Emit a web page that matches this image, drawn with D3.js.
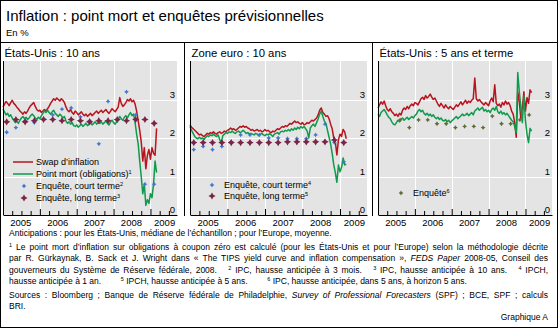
<!DOCTYPE html>
<html>
<head>
<meta charset="utf-8">
<script src="https://cdn.jsdelivr.net/npm/d3@7"></script>
<style>
body { margin: 0; background: #fff; }
svg { display: block; font-family: "Liberation Sans", Arial, sans-serif; }
</style>
</head>
<body>
<script>
////////////////   Data   //////////////////

// daily-ish series, one value every half month from 2005.0
var seriesStart = 2005, seriesStep = 1 / 24;

var usSwap = [2.80, 2.88, 2.95, 2.90, 2.84, 2.92, 2.98, 2.90, 2.86, 2.80, 2.76, 2.70,
  2.66, 2.62, 2.68, 2.64, 2.70, 2.78, 2.84, 2.88, 2.92,
  2.82, 2.74, 2.70, 2.72, 2.66, 2.70, 2.74, 2.70, 2.76, 2.82,
  2.90, 2.96, 3.02, 2.98, 3.04, 3.00, 2.96, 3.02, 2.98, 2.92,
  2.80, 2.72, 2.68, 2.74, 2.66, 2.62, 2.70, 2.66, 2.60, 2.64, 2.68, 2.62,
  2.58, 2.62, 2.56, 2.60, 2.64, 2.58, 2.62, 2.66, 2.70, 2.64, 2.68,
  2.72, 2.66, 2.70, 2.74, 2.68, 2.64, 2.70, 2.76, 2.72, 2.68, 2.74, 2.80,
  3.05, 2.90, 2.82, 2.86, 2.92, 3.00, 2.96, 3.02, 2.94, 2.98, 2.88, 2.70,
  2.45, 2.20, 1.90, 1.40, 1.75, 1.20, 1.55, 1.70, 1.45, 1.75, 1.60, 1.55, 2.25];
var usBreakeven = [2.75, 2.68, 2.60, 2.64, 2.56, 2.60, 2.52, 2.46, 2.40, 2.44, 2.38, 2.46,
  2.52, 2.56, 2.50, 2.54, 2.48, 2.52, 2.58, 2.62, 2.58,
  2.52, 2.48, 2.54, 2.50, 2.58, 2.64, 2.70, 2.66, 2.72, 2.66,
  2.62, 2.68, 2.72, 2.64, 2.60, 2.56, 2.62, 2.58, 2.52, 2.56,
  2.44, 2.38, 2.42, 2.36, 2.40, 2.32, 2.30, 2.34, 2.28, 2.32, 2.36, 2.30,
  2.34, 2.38, 2.32, 2.36, 2.40, 2.34, 2.38, 2.42, 2.36, 2.40, 2.38,
  2.42, 2.36, 2.40, 2.44, 2.38, 2.34, 2.42, 2.46, 2.40, 2.36, 2.42, 2.48,
  2.56, 2.50, 2.46, 2.54, 2.58, 2.52, 2.60, 2.66, 2.58, 2.62, 2.40, 2.10,
  1.85, 1.40, 1.00, 0.55, 0.80, 0.25, 0.40, 0.30, 0.55, 0.45, 0.80, 1.40, 1.10];

var euSwap = [2.34, 2.28, 2.24, 2.20, 2.16, 2.12, 2.08, 2.10, 2.06, 2.04,
  2.08, 2.12, 2.10, 2.14, 2.12, 2.16, 2.12, 2.10, 2.14, 2.16, 2.12, 2.14, 2.18, 2.16, 2.20,
  2.22, 2.26, 2.22, 2.24, 2.20, 2.22, 2.26, 2.30, 2.28,
  2.32, 2.28, 2.30, 2.26, 2.24, 2.20, 2.22,
  2.18, 2.20, 2.22, 2.18, 2.20, 2.16, 2.18, 2.22, 2.18, 2.20, 2.16, 2.14, 2.18,
  2.16, 2.20, 2.24, 2.22, 2.26, 2.30,
  2.28, 2.32, 2.30, 2.34, 2.38, 2.36, 2.40,
  2.44, 2.40, 2.42, 2.38, 2.36, 2.40,
  2.34, 2.36, 2.40, 2.38, 2.42, 2.46,
  2.44, 2.48, 2.52, 2.60, 2.72,
  2.78, 2.66, 2.62, 2.56, 2.58, 2.50,
  2.36, 2.24, 2.00, 1.90, 1.56,
  1.95, 2.10, 2.04, 2.22, 2.16, 1.98];
var euBreakeven = [2.30, 2.20, 2.12, 2.04, 2.00, 1.98, 2.02, 1.98, 2.00, 1.96,
  2.02, 2.06, 2.04, 2.08, 2.06, 2.10, 2.06, 2.04, 2.08, 1.96, 1.88,
  2.06, 2.10, 2.14, 2.12, 2.16, 2.14, 2.18, 2.14, 2.12, 2.16, 2.18, 2.14, 2.16, 2.20, 2.16, 2.12, 2.14, 2.10, 2.12, 2.10,
  2.08, 2.12, 2.10, 2.06, 2.10, 2.12, 2.08, 2.06, 2.10, 2.08, 2.12, 2.08, 2.04, 2.10, 2.12, 2.14, 2.10, 2.16, 2.18,
  2.16, 2.20, 2.18, 2.22, 2.18, 2.24, 2.20, 2.26, 2.22, 2.28, 2.24, 2.30, 2.26,
  2.30, 2.24, 2.18, 2.00, 2.26, 2.32,
  2.36, 2.30, 2.40, 2.50, 2.62,
  2.70, 2.56, 2.44, 2.38, 2.20, 2.02,
  1.84, 1.60, 1.30, 1.10, 0.85,
  1.30, 1.12, 1.24, 1.48, 1.30, 1.32];

var fwdSwap = [2.78, 2.86, 2.94, 2.88, 2.96, 2.84, 2.74, 2.70, 2.76, 2.68, 2.64,
  2.58, 2.62, 2.56, 2.64, 2.60, 2.72, 2.78, 2.74, 2.82, 2.76, 2.84,
  2.88, 2.84, 2.92, 2.90, 2.86, 2.94, 3.02, 3.06, 3.00, 3.10, 3.04, 3.08, 3.14, 3.06, 3.00, 3.04, 2.96,
  2.88, 2.82, 2.90, 2.84, 2.78, 2.86, 2.80, 2.76, 2.82, 2.78, 2.74, 2.80, 2.86, 2.82,
  2.88, 2.94, 2.86, 2.92, 2.98, 2.90, 2.96, 2.92, 2.98, 3.02, 3.56,
  3.02, 2.96, 3.00, 2.94, 2.90, 2.86, 2.92, 2.88, 2.84, 2.96, 3.04, 2.94,
  3.38, 2.90, 2.84, 2.88, 2.80, 2.92, 2.86, 2.96, 2.88, 2.92, 2.84,
  2.70, 2.62, 2.40, 2.02, 3.20, 2.95, 2.50, 2.80, 3.20, 2.70, 3.05, 2.90, 3.25, 3.18];
var fwdBreakeven = [2.62, 2.56, 2.66, 2.70, 2.74, 2.68, 2.60, 2.54, 2.50, 2.42, 2.36,
  2.34, 2.40, 2.46, 2.42, 2.48, 2.52, 2.46, 2.50, 2.54, 2.48, 2.52,
  2.56, 2.52, 2.58, 2.62, 2.70, 2.74, 2.68, 2.72, 2.64,
  2.60, 2.64, 2.58, 2.62, 2.56, 2.60, 2.54, 2.50, 2.54, 2.48, 2.52, 2.46, 2.44,
  2.48, 2.42, 2.46, 2.40, 2.44, 2.48, 2.52, 2.56, 2.50, 2.54, 2.58,
  2.62, 2.58, 2.60, 2.64, 2.58, 2.62, 2.66, 2.60, 2.70,
  2.74, 2.78, 2.72, 2.76, 2.80, 2.70, 2.74, 2.68, 2.72, 2.66, 2.74,
  2.78, 2.72, 2.82, 2.68, 2.64, 2.70, 2.62, 2.66, 2.60, 2.64, 2.58,
  2.52, 2.46, 2.42, 2.30, 2.14, 3.70, 3.20, 2.80, 2.40, 3.10, 2.45, 2.10, 1.88, 2.25, 2.18];

// quarterly survey points
var surveyStart = 2005.1, surveyStep = 0.25;
var usShort = [2.15, 2.27, 2.45, 2.40, 2.50, 2.60, 2.75, 2.78, 2.55, 2.45, 1.85, 2.95, 2.45, 3.20, 2.60, 0.80, 0.80];
var usLong = [2.42, 2.48, 2.42, 2.45, 2.48, 2.48, 2.45, 2.48, 2.45, 2.42, 2.45, 2.45, 2.48, 2.45, 2.48, 2.48, 2.38];
var euShort = [1.70, 1.78, 1.70, 1.78, 1.90, 2.08, 2.08, 2.08, 2.00, 2.00, 1.98, 1.98, 1.98, 2.08, 2.36, 1.88, 1.38];
var euLong = [1.88, 1.88, 1.88, 1.88, 1.88, 1.88, 1.88, 1.88, 1.88, 1.88, 1.90, 1.90, 1.90, 1.90, 1.90, 1.95, 1.88];
var fwdSurvey = [2.47, 2.27, 2.47, 2.47, 2.37, 2.37, 2.27, 2.30, 2.30, 2.27, 2.57, 2.37, 2.37, 2.47, 2.60]; // from 3rd quarter of 2005

var yearLabels = ["2005", "2006", "2007", "2008", "2009"];
var yTickValues = [0, 1, 2, 3];

////////////////   Styles   //////////////////

var colors = {
  red: "#b8141e",
  green: "#0f9a4c",
  blue: "#3f78d0",
  maroon: "#7a2448",
  olive: "#5e6b35",
  bg: "#e4e4e4"
};

var W = 558, H = 328,
    plotTop = 61, plotBottom = 215,
    xMax = 2009.72;

var svg = d3.select("body").append("svg")
  .attr("width", W)
  .attr("height", H);

svg.append("rect")
  .attr("x", 0.5).attr("y", 0.5)
  .attr("width", W - 1).attr("height", H - 1)
  .attr("fill", "#fff").attr("stroke", "#000");

// main title
svg.append("text").attr("x", 6).attr("y", 21)
  .style("font-size", "15px").text("Inflation : point mort et enquêtes prévisionnelles");
svg.append("text").attr("x", 6).attr("y", 36)
  .style("font-size", "9.5px").text("En %");

svg.append("line").attr("x1", 0).attr("x2", W).attr("y1", 42.5).attr("y2", 42.5)
  .attr("stroke", "#000");

// 4-point star used for the survey markers
function star(r, k) {
  return "M0," + (-r) + "L" + k + "," + (-k) + "L" + r + ",0L" + k + "," + k +
    "L0," + r + "L" + (-k) + "," + k + "L" + (-r) + ",0L" + (-k) + "," + (-k) + "Z";
}
var markers = {
  short: { path: star(2.4, 0.9), color: colors.blue },
  long: { path: star(3.6, 1.3), color: colors.maroon },
  fwd: { path: star(2.4, 0.9), color: colors.olive }
};

var panels = [
  { title: "États-Unis : 10 ans", left: 3, right: 177,
    lines: [usSwap, usBreakeven],
    dots: [{ values: usShort, k0: 0, m: "short" }, { values: usLong, k0: 0, m: "long" }],
    legend: { x: 13, rows: [
      { type: "line", color: colors.red, y: 162, label: "Swap d’inflation" },
      { type: "line", color: colors.green, y: 174, label: "Point mort (obligations)", sup: "1" },
      { type: "dot", m: "short", y: 186, label: "Enquête, court terme", sup: "2" },
      { type: "dot", m: "long", y: 198, label: "Enquête, long terme", sup: "3" }] } },
  { title: "Zone euro : 10 ans", left: 190, right: 367,
    lines: [euSwap, euBreakeven],
    dots: [{ values: euShort, k0: 0, m: "short" }, { values: euLong, k0: 0, m: "long" }],
    legend: { x: 201, rows: [
      { type: "dot", m: "short", y: 185, label: "Enquête, court terme", sup: "4" },
      { type: "dot", m: "long", y: 196, label: "Enquête, long terme", sup: "5" }] } },
  { title: "États-Unis : 5 ans et terme", left: 378, right: 552,
    lines: [fwdSwap, fwdBreakeven],
    dots: [{ values: fwdSurvey, k0: 2, m: "fwd" }],
    legend: { x: 390, rows: [
      { type: "dot", m: "fwd", y: 193, label: "Enquête", sup: "6" }] } }
];

var lineColors = [colors.red, colors.green];

// separators between panels
[184.5, 372.5].forEach(function (sx) {
  svg.append("line").attr("x1", sx).attr("x2", sx).attr("y1", 42).attr("y2", 216)
    .attr("stroke", "#000");
});

panels.forEach(function (p) {
  var x = d3.scaleLinear().domain([seriesStart, xMax]).range([p.left, p.right]);
  var y = d3.scaleLinear().domain([0, 4]).range([plotBottom, plotTop]);
  var g = svg.append("g");

  g.append("text").attr("x", p.left + 1.5).attr("y", 56.5)
    .style("font-size", "11.3px").text(p.title);

  g.append("rect")
    .attr("x", p.left).attr("y", plotTop)
    .attr("width", p.right - p.left).attr("height", plotBottom - plotTop)
    .attr("fill", colors.bg);

  // white grid
  g.selectAll(".hgrid").data([1, 2, 3]).enter().append("line")
    .attr("x1", p.left).attr("x2", p.right)
    .attr("y1", function (d) { return Math.round(y(d)) + 0.5; })
    .attr("y2", function (d) { return Math.round(y(d)) + 0.5; })
    .attr("stroke", "#fff");
  g.selectAll(".vgrid").data([2006, 2007, 2008, 2009]).enter().append("line")
    .attr("x1", function (d) { return Math.round(x(d)) + 0.5; })
    .attr("x2", function (d) { return Math.round(x(d)) + 0.5; })
    .attr("y1", plotTop).attr("y2", plotBottom)
    .attr("stroke", "#fff");

  // series
  var line = d3.line()
    .x(function (d, i) { return x(seriesStart + i * seriesStep); })
    .y(function (d) { return y(d); });
  p.lines.forEach(function (vals, j) {
    g.append("path").datum(vals)
      .attr("d", line)
      .attr("fill", "none")
      .attr("stroke", lineColors[j])
      .attr("stroke-width", 1.5)
      .attr("stroke-linejoin", "round");
  });

  // survey markers
  p.dots.forEach(function (s) {
    g.selectAll(null).data(s.values).enter().append("path")
      .attr("d", markers[s.m].path)
      .attr("fill", markers[s.m].color)
      .attr("transform", function (d, i) {
        return "translate(" + x(surveyStart + (s.k0 + i) * surveyStep) + "," + y(d) + ")";
      });
  });

  // axes
  var quarters = d3.range(2005.25, 2009.6, 0.25);
  g.append("g")
    .attr("transform", "translate(0," + plotBottom + ")")
    .call(d3.axisBottom(x).tickValues(quarters).tickSizeInner(-4).tickSizeOuter(0).tickFormat(""))
    .call(function (a) {
      a.select(".domain").attr("stroke", "#000");
      a.selectAll(".tick line").attr("stroke", "#000")
        .attr("y2", function (d) { return Math.abs(d - Math.round(d)) < 0.01 ? -6 : -4; });
    });
  g.append("line")
    .attr("x1", p.left + 0.5).attr("x2", p.left + 0.5)
    .attr("y1", plotTop).attr("y2", plotBottom)
    .attr("stroke", "#000");

  // year labels, centred in each year
  var labelPos = yearLabels.map(function (l) { return +l === 2009 ? 2009.37 : +l + 0.47; });
  g.append("g")
    .attr("transform", "translate(0," + plotBottom + ")")
    .call(d3.axisBottom(x).tickValues(labelPos).tickSize(0).tickPadding(4)
      .tickFormat(function (d, i) { return yearLabels[i]; }))
    .call(function (a) {
      a.select(".domain").remove();
      a.selectAll("text").attr("fill", "#000")
        .style("font-size", "9.5px").style("font-family", "Liberation Sans, Arial, sans-serif");
    });

  // value labels, right side inside the plot, just above the grid line
  g.append("g")
    .attr("transform", "translate(" + (p.right - 2) + ",0)")
    .call(d3.axisLeft(y).tickValues(yTickValues).tickSize(0).tickPadding(0).tickFormat(d3.format("d")))
    .call(function (a) {
      a.select(".domain").remove();
      a.selectAll("text").attr("fill", "#000").attr("dy", "-0.25em")
        .style("font-size", "9.5px").style("font-family", "Liberation Sans, Arial, sans-serif");
    });

  // legend
  var lg = g.append("g");
  p.legend.rows.forEach(function (r) {
    if (r.type === "line") {
      lg.append("line").attr("x1", p.legend.x).attr("x2", p.legend.x + 20)
        .attr("y1", r.y).attr("y2", r.y)
        .attr("stroke", r.color).attr("stroke-width", 1.5);
    } else {
      lg.append("path").attr("d", markers[r.m].path)
        .attr("fill", markers[r.m].color)
        .attr("transform", "translate(" + (p.legend.x + 11) + "," + r.y + ")");
    }
    var t = lg.append("text").attr("x", p.legend.x + 23).attr("y", r.y + 3.2)
      .style("font-size", "9px").text(r.label);
    if (r.sup) {
      t.append("tspan").attr("dy", -3.5).style("font-size", "5.5px").text(r.sup);
    }
  });
});

////////////////   Notes   //////////////////

// "gap" parts are the wide blanks between two footnotes
var notes = [
  { y: 236, parts: [["Anticipations : pour les États-Unis, médiane de l’échantillon ; pour l’Europe, moyenne."]] },
  { y: 250, justify: true, parts: [["1", "sup"], [" Le point mort d’inflation sur obligations à coupon zéro est calculé (pour les États-Unis et pour l’Europe) selon la méthodologie décrite"]] },
  { y: 261, justify: true, parts: [["par R. Gürkaynak, B. Sack et J. Wright dans « The TIPS yield curve and inflation compensation », "], ["FEDS Paper", "it"], [" 2008-05, Conseil des"]] },
  { y: 272.5, justify: true, parts: [["gouverneurs du Système de Réserve fédérale, 2008.   "], ["2", "sup"], [" IPC, hausse anticipée à 3 mois.   "], ["3", "sup"], [" IPC, hausse anticipée à 10 ans.   "], ["4", "sup"], [" IPCH,"]] },
  { y: 284, right: 467, parts: [["hausse anticipée à 1 an."], ["", "gap"], ["5", "sup"], [" IPCH, hausse anticipée à 5 ans."], ["", "gap"], ["6", "sup"], [" IPC, hausse anticipée, dans 5 ans, à horizon 5 ans."]] },
  { y: 297.5, justify: true, parts: [["Sources : Bloomberg ; Banque de Réserve fédérale de Philadelphie, "], ["Survey of Professional Forecasters", "it"], [" (SPF) ; BCE, SPF ; calculs"]] },
  { y: 309, parts: [["BRI."]] }
];

var noteLeft = 9, noteRight = 548, noteSize = "8.5px";
notes.forEach(function (n) {
  var t = svg.append("text").attr("x", noteLeft).attr("y", n.y)
    .style("font-size", noteSize).style("white-space", "pre");
  var raised = false, gaps = [];
  n.parts.forEach(function (pt) {
    var ts = t.append("tspan").text(pt[0]);
    if (pt[1] === "sup") { ts.attr("dy", -3).style("font-size", "5.5px"); raised = true; }
    else if (raised) { ts.attr("dy", 3); raised = false; }
    if (pt[1] === "it") ts.style("font-style", "italic");
    if (pt[1] === "gap") gaps.push(ts);
  });
  var w = t.node().getComputedTextLength();
  if (n.justify) {
    var spaces = n.parts.map(function (pt) { return pt[0]; }).join("").split(" ").length - 1;
    t.style("word-spacing", ((noteRight - noteLeft - w) / spaces) + "px");
  }
  if (n.right && gaps.length) {
    var g = (n.right - noteLeft - w) / gaps.length;
    gaps.forEach(function (ts) { ts.text("\u00a0").attr("dx", g - 2.4); });
  }
});
svg.append("text").attr("x", noteRight).attr("y", 320)
  .attr("text-anchor", "end").style("font-size", noteSize).text("Graphique A");
</script>
</body>
</html>
